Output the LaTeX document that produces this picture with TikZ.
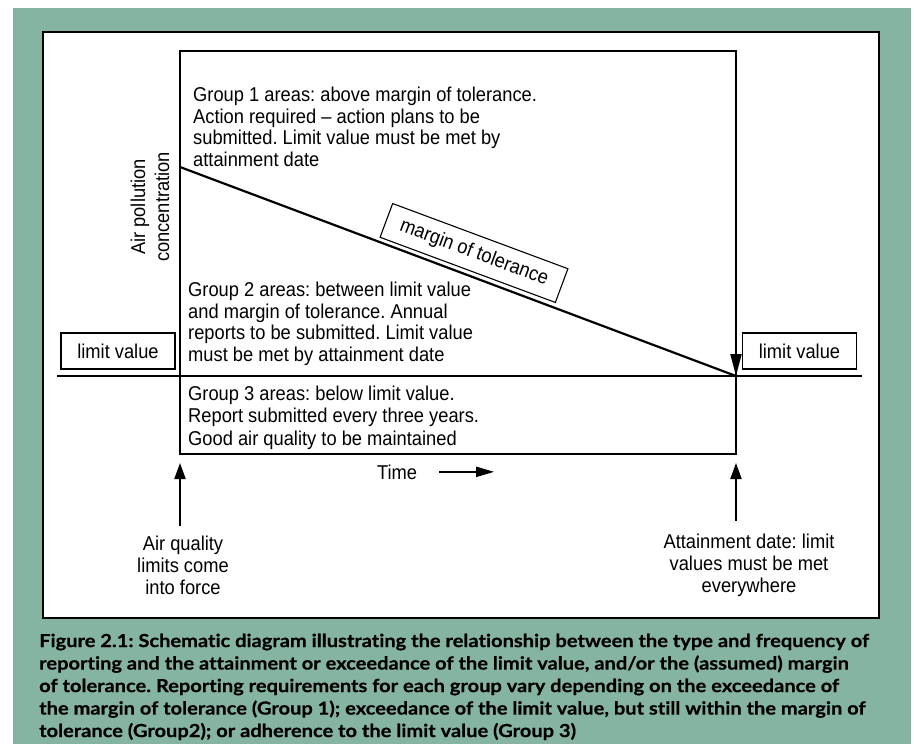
\documentclass[tikz,border=0pt]{standalone}
\usepackage{fontspec}
\setmainfont{Liberation Sans}[FakeStretch=0.915]
\newfontfamily\capfont{Lato}[Ligatures=NoCommon,BoldFeatures={FakeStretch=1.115,FakeBold=0.5,Ligatures=NoCommon}]
\usetikzlibrary{arrows.meta}
\definecolor{bggreen}{RGB}{134,180,162}
\begin{document}
\frenchspacing
\begin{tikzpicture}[x=1pt,y=-1pt,
  txt/.style={inner sep=0pt, font=\fontsize{20}{21.6}\selectfont, align=left},
  ctxt/.style={inner sep=0pt, font=\fontsize{20}{22.3}\selectfont, align=center},
  lvbox/.style={draw, line width=1.1pt, inner sep=0pt, minimum width=114pt, minimum height=36pt, font=\fontsize{20}{22}\selectfont},
  thick2/.style={line width=2pt},
  arr/.style={line width=2pt, -{Triangle[length=16pt,width=11pt]}},
  darr/.style={line width=2pt, -{Triangle[length=22pt,width=11pt]}}]
\useasboundingbox (0,0) rectangle (914,744);
\fill[white] (0,0) rectangle (914,744);
\fill[bggreen] (13,8) rectangle (911,744);
\draw[line width=2.6pt, fill=white] (43,32) rectangle (879,618);

% main coordinates
\coordinate (TL) at (180,51);
\coordinate (TR) at (736,51);
\coordinate (BL) at (180,454);
\coordinate (BR) at (736,454);
\coordinate (start) at (180,167);
\coordinate (att0) at (736,376);
\coordinate (limL) at (57,376);
\coordinate (limR) at (862,376);

\draw[thick2] (TL) rectangle (BR);
\draw[thick2] (limL) -- (limR);
\draw[line width=2.2pt] (start) -- (att0);
\draw[darr] ([yshift=60pt]att0) -- (att0);

% texts
\node[txt, anchor=north west] (g1) at (193,87)
  {Group 1 areas: above margin of tolerance.\\Action required -- action plans to be\\submitted. Limit value must be met by\\attainment date};
\node[txt, anchor=north west] (g2) at (188,282)
  {Group 2 areas: between limit value\\and margin of tolerance. Annual\\reports to be submitted. Limit value\\must be met by attainment date};
\node[txt, anchor=north west, font=\fontsize{20}{22.5}\selectfont] (g3) at (188,385.5)
  {Group 3 areas: below limit value.\\Report submitted every three years.\\Good air quality to be maintained};

\node[draw, line width=1.1pt, rotate=-20.4, minimum width=187pt, minimum height=36pt, inner sep=0pt,
  font=\fontsize{20}{22}\selectfont] (mot) at (474,253) {margin of tolerance};

\node[ctxt, rotate=90, font=\fontsize{20}{24}\selectfont] (yax) at (150,207) {Air pollution\\concentration};

\node[lvbox] (lvL) at (118,351) {limit value};
\node[lvbox] (lvR) at (799.5,351) {limit value};

\node[inner sep=0pt, anchor=base, font=\fontsize{20}{22}\selectfont] (time) at (397,479) {Time};
\draw[line width=2pt, -{Triangle[length=18pt,width=10pt]}] ([xshift=22pt]time.east) -- ++(55,0);

\node[ctxt, anchor=north] (aq) at (183,535.5) {Air quality\\limits come\\into force};
\node[ctxt, anchor=north, font=\fontsize{20}{22}\selectfont] (att) at (749,533.5) {Attainment date: limit\\values must be met\\everywhere};

\draw[arr] ([yshift=9.5pt]aq.north -| BL) -- ([yshift=-9pt]BL);
\draw[arr] ([yshift=12.5pt]att.north -| BR) -- ([yshift=-9pt]BR);

\node[inner sep=0pt, anchor=north west, align=left, font=\capfont\bfseries\fontsize{18}{22.5}\selectfont] (cap) at (39,633.5)
  {Figure 2.1: Schematic diagram illustrating the relationship between the type and frequency of\\
   reporting and the attainment or exceedance of the limit value, and/or the (assumed) margin\\
   of tolerance. Reporting requirements for each group vary depending on the exceedance of\\
   the margin of tolerance (Group 1); exceedance of the limit value, but still within the margin of\\
   tolerance (Group2); or adherence to the limit value (Group 3)};
\end{tikzpicture}
\end{document}
